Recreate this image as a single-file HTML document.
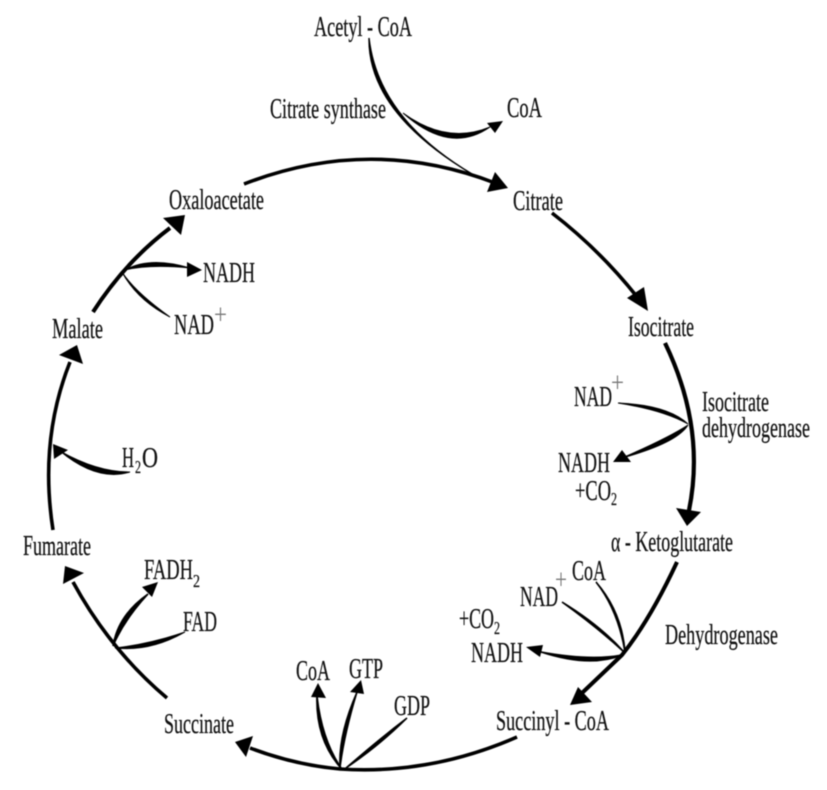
<!DOCTYPE html>
<html><head><meta charset="utf-8"><style>
html,body{margin:0;padding:0;background:#fff;width:827px;height:790px;overflow:hidden}
svg{display:block;filter:blur(.5px)}
text{font-family:"Liberation Serif",serif;font-size:29px;fill:#111;stroke:#111;stroke-width:.25}
.s{font-size:18px}
.p{fill:#777;stroke:none}
.l{fill:none;stroke:#000;stroke-width:3.6;stroke-linecap:butt}
.t{fill:#000}
</style></head><body>
<svg width="827" height="790" viewBox="0 0 827 790" xmlns="http://www.w3.org/2000/svg">
<!-- main ring -->
<path class="l" d="M244 184Q370 135 495 183"/>
<polygon class="t" points="508,188 487,192 495,172"/>
<path class="l" d="M552 213Q600 250 638 298"/>
<polygon class="t" points="648,311 627,298 644,287"/>
<path class="l" style="stroke-width:4.2" d="M665 343Q707 430 688 515"/>
<polygon class="t" points="687,526 676,508 701,512"/>
<path class="l" style="stroke-width:4" d="M677 562Q650 620 622 655L582 693"/>
<polygon class="t" points="570,705 578,687 592,702"/>
<path class="l" d="M517 737Q430 775 340 769Q295 765 250 748"/>
<polygon class="t" points="235,742 253,736 246,757"/>
<path class="l" d="M167 698Q110 650 73 582"/>
<polygon class="t" points="65,566 84,573 63,584"/>
<path class="l" d="M53 530Q39 440 70 362"/>
<polygon class="t" points="77,345 83,364 59,355"/>
<path class="l" style="stroke-width:4" d="M93 312Q125 262 170 228"/>
<polygon class="t" points="185,215 181,235 163,218"/>
<!-- Acetyl-CoA -->
<path class="t" d="M369 38Q368 112 472 174Q378 118 369 38Z" stroke="#000" stroke-width="1.4"/>
<path class="t" d="M403 113Q450 155 490 127Q447 145 403 113Z" stroke="#000" stroke-width="1"/>
<polygon class="t" points="503,121 495,133 487,123"/>
<!-- Malate -->
<path class="t" d="M125 270Q150 256 190 268Q150 264 125 270Z" stroke="#000" stroke-width="1"/>
<path class="t" d="M170 317Q137 300 122 272Q135 292 170 317Z" stroke="#000" stroke-width="1"/>
<polygon class="t" points="202,270 187,277 187,262"/>
<!-- H2O -->
<path class="t" d="M130 472Q97 482 60 451Q97 472 130 472Z" stroke="#000" stroke-width="1"/>
<polygon class="t" points="53,444 68,450 54,459"/>
<!-- Isocitrate -->
<path class="t" d="M618 403Q668 405 688 424Q663 410 618 403Z" stroke="#000" stroke-width="1"/>
<path class="t" d="M688 425Q677 443 622 458Q668 438 688 425Z" stroke="#000" stroke-width="1"/>
<polygon class="t" points="613,462 622,450 631,462"/>
<!-- Ketoglutarate -->
<path class="t" d="M596 582Q622 612 625 652Q618 610 596 582Z" stroke="#000" stroke-width="1.6"/>
<path class="t" d="M562 602Q600 625 624 652Q598 628 562 602Z" stroke="#000" stroke-width="1.6"/>
<path class="t" d="M622 655Q590 668 541 652Q590 661 622 655Z" stroke="#000" stroke-width="1.6"/>
<polygon class="t" points="526,647 543,645 540,657"/>
<!-- Fumarate -->
<path class="t" d="M185 632Q150 652 115 648Q150 644 185 632Z" stroke="#000" stroke-width="1"/>
<path class="t" d="M113 646Q118 615 148 594Q124 620 113 646Z" stroke="#000" stroke-width="1.6"/>
<polygon class="t" points="158,582 152,597 142,587"/>
<!-- Succinyl -->
<path class="t" d="M341 768Q316 740 317 697Q322 740 341 768Z" stroke="#000" stroke-width="1.8"/>
<path class="t" d="M340 768Q338 735 357 692Q344 735 340 768Z" stroke="#000" stroke-width="1.5"/>
<path class="t" d="M346 768Q378 740 407 718Q380 745 346 768Z" stroke="#000" stroke-width="1.5"/>
<polygon class="t" points="318,683 326,698 311,697"/>
<polygon class="t" points="361,680 364,694 350,692"/>
<!-- labels -->
<text x="314" y="36" textLength="98" lengthAdjust="spacingAndGlyphs">Acetyl - CoA</text>
<text x="270" y="118" textLength="116" lengthAdjust="spacingAndGlyphs">Citrate synthase</text>
<text x="507" y="117" textLength="35" lengthAdjust="spacingAndGlyphs">CoA</text>
<text x="513" y="210" textLength="50" lengthAdjust="spacingAndGlyphs">Citrate</text>
<text x="169" y="209" textLength="95" lengthAdjust="spacingAndGlyphs">Oxaloacetate</text>
<text x="203" y="282" textLength="52" lengthAdjust="spacingAndGlyphs">NADH</text>
<text x="174" y="334" textLength="40" lengthAdjust="spacingAndGlyphs">NAD</text>
<text class="p" x="214" y="324" textLength="13" lengthAdjust="spacingAndGlyphs">+</text>
<text x="52" y="338" textLength="51" lengthAdjust="spacingAndGlyphs">Malate</text>
<text x="628" y="336" textLength="66" lengthAdjust="spacingAndGlyphs">Isocitrate</text>
<text x="574" y="406" textLength="38" lengthAdjust="spacingAndGlyphs">NAD</text>
<text class="p" x="611" y="392" textLength="13" lengthAdjust="spacingAndGlyphs">+</text>
<text x="702" y="411" textLength="67" lengthAdjust="spacingAndGlyphs">Isocitrate</text>
<text x="702" y="437" textLength="108" lengthAdjust="spacingAndGlyphs">dehydrogenase</text>
<text x="558" y="472" textLength="52" lengthAdjust="spacingAndGlyphs">NADH</text>
<text x="575" y="500" textLength="36" lengthAdjust="spacingAndGlyphs">+CO</text>
<text class="s" x="611" y="505" textLength="6" lengthAdjust="spacingAndGlyphs">2</text>
<text x="122" y="467" textLength="12" lengthAdjust="spacingAndGlyphs">H</text>
<text class="s" x="135" y="473" textLength="6" lengthAdjust="spacingAndGlyphs">2</text>
<text x="142" y="467" textLength="16" lengthAdjust="spacingAndGlyphs">O</text>
<text x="611" y="551" textLength="122" lengthAdjust="spacingAndGlyphs">α - Ketoglutarate</text>
<text x="572" y="580" textLength="34" lengthAdjust="spacingAndGlyphs">CoA</text>
<text x="520" y="606" textLength="38" lengthAdjust="spacingAndGlyphs">NAD</text>
<text class="p" x="555" y="589" textLength="12" lengthAdjust="spacingAndGlyphs">+</text>
<text x="459" y="628" textLength="35" lengthAdjust="spacingAndGlyphs">+CO</text>
<text class="s" x="494" y="634" textLength="6" lengthAdjust="spacingAndGlyphs">2</text>
<text x="471" y="662" textLength="52" lengthAdjust="spacingAndGlyphs">NADH</text>
<text x="665" y="644" textLength="113" lengthAdjust="spacingAndGlyphs">Dehydrogenase</text>
<text x="23" y="555" textLength="68" lengthAdjust="spacingAndGlyphs">Fumarate</text>
<text x="144" y="579" textLength="49" lengthAdjust="spacingAndGlyphs">FADH</text>
<text class="s" x="193" y="587" textLength="7" lengthAdjust="spacingAndGlyphs">2</text>
<text x="183" y="631" textLength="34" lengthAdjust="spacingAndGlyphs">FAD</text>
<text x="164" y="733" textLength="70" lengthAdjust="spacingAndGlyphs">Succinate</text>
<text x="296" y="680" textLength="34" lengthAdjust="spacingAndGlyphs">CoA</text>
<text x="349" y="678" textLength="34" lengthAdjust="spacingAndGlyphs">GTP</text>
<text x="394" y="715" textLength="36" lengthAdjust="spacingAndGlyphs">GDP</text>
<text x="496" y="730" textLength="113" lengthAdjust="spacingAndGlyphs">Succinyl - CoA</text>
</svg>
</body></html>
